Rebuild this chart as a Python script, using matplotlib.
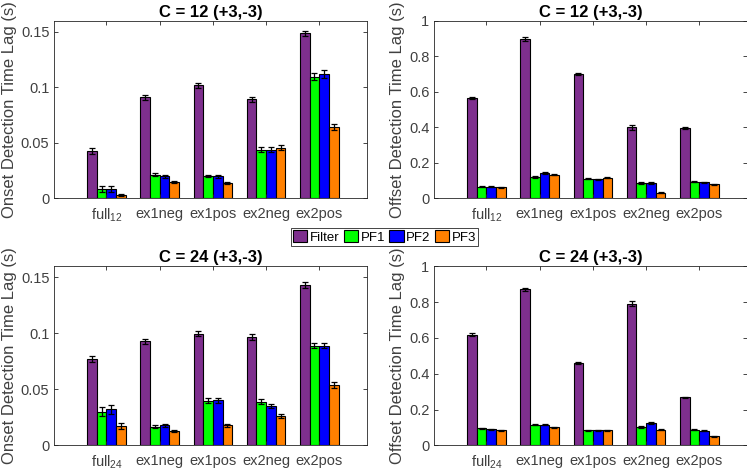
import matplotlib
matplotlib.use("Agg")
import matplotlib.pyplot as plt
import numpy as np

plt.rcParams['font.family'] = ['Liberation Sans', 'DejaVu Sans']
plt.rcParams['mathtext.fontset'] = 'custom'
plt.rcParams['mathtext.rm'] = 'Liberation Sans'
plt.rcParams['mathtext.it'] = 'Liberation Sans'

series = ['Filter', 'PF1', 'PF2', 'PF3']
colors = ['#7E2F8E', '#00FF00', '#0000FF', '#FF8000']
labels_12 = ['full$_{12}$', 'ex1neg', 'ex1pos', 'ex2neg', 'ex2pos']
labels_24 = ['full$_{24}$', 'ex1neg', 'ex1pos', 'ex2neg', 'ex2pos']

# onset, C = 12  (rows = Filter, PF1, PF2, PF3; cols = groups)
on12 = [[0.0429, 0.0909, 0.1017, 0.0891, 0.1485],
        [0.0081, 0.0213, 0.0201, 0.0438, 0.1095],
        [0.0081, 0.0198, 0.0198, 0.0438, 0.1119],
        [0.0030, 0.0150, 0.0141, 0.0456, 0.0642]]
on12_err = [[0.0028, 0.0020, 0.0020, 0.0022, 0.0020],
            [0.0028, 0.0015, 0.0013, 0.0022, 0.0030],
            [0.0028, 0.0015, 0.0013, 0.0022, 0.0035],
            [0.0013, 0.0010, 0.0010, 0.0022, 0.0030]]

# offset, C = 12
off12 = [[0.564, 0.895, 0.701, 0.400, 0.398],
         [0.065, 0.118, 0.110, 0.086, 0.093],
         [0.066, 0.141, 0.108, 0.086, 0.091],
         [0.062, 0.133, 0.116, 0.032, 0.078]]
off12_err = [[0.006, 0.011, 0.005, 0.014, 0.006],
             [0.003, 0.005, 0.003, 0.004, 0.003],
             [0.003, 0.005, 0.003, 0.004, 0.003],
             [0.003, 0.004, 0.003, 0.003, 0.002]]

# onset, C = 24
on24 = [[0.0774, 0.0930, 0.0999, 0.0969, 0.1434],
        [0.0300, 0.0168, 0.0399, 0.0390, 0.0891],
        [0.0324, 0.0180, 0.0402, 0.0351, 0.0891],
        [0.0174, 0.0126, 0.0177, 0.0264, 0.0540]]
on24_err = [[0.0025, 0.0022, 0.0022, 0.0025, 0.0025],
            [0.0040, 0.0013, 0.0022, 0.0022, 0.0025],
            [0.0040, 0.0013, 0.0022, 0.0022, 0.0025],
            [0.0028, 0.0010, 0.0012, 0.0020, 0.0028]]

# offset, C = 24
off24 = [[0.618, 0.872, 0.460, 0.791, 0.268],
         [0.095, 0.115, 0.084, 0.102, 0.088],
         [0.089, 0.114, 0.084, 0.123, 0.082],
         [0.084, 0.100, 0.084, 0.088, 0.050]]
off24_err = [[0.010, 0.009, 0.004, 0.013, 0.004],
             [0.004, 0.003, 0.002, 0.005, 0.002],
             [0.003, 0.003, 0.002, 0.005, 0.002],
             [0.003, 0.003, 0.002, 0.004, 0.002]]

fig = plt.figure(figsize=(7.47, 4.72), dpi=100)
W, H = 747.0, 472.0
gray = '#262626'


def panel(box, vals, errs, labels, ylim, yticks, yticklabels, ylabel):
    ax = fig.add_axes([box[0] / W, 1 - box[3] / H, (box[2] - box[0]) / W, (box[3] - box[1]) / H])
    x = np.arange(1, 6)
    bw = (4 / 5.5) / 4
    bars = []
    for i in range(4):
        b = ax.bar(x + (i - 1.5) * bw, vals[i], bw, color=colors[i],
                   edgecolor='black', linewidth=0.8, label=series[i])
        ax.errorbar(x + (i - 1.5) * bw, vals[i], yerr=errs[i], fmt='none',
                    ecolor='black', elinewidth=0.9, capsize=2.2, capthick=0.9)
        bars.append(b)
    ax.set_xlim(0.02, 5.89)
    ax.set_ylim(*ylim)
    ax.set_xticks(x)
    ax.set_xticklabels(labels)
    ax.set_yticks(yticks)
    ax.set_yticklabels(yticklabels)
    ax.tick_params(direction='in', top=True, right=True, length=3, width=0.6,
                   colors=gray, labelsize=10.5, labelcolor='#404040')
    ax.tick_params(axis='x', pad=6)
    for s in ax.spines.values():
        s.set_color(gray)
        s.set_linewidth(0.6)
    ax.set_ylabel(ylabel, fontsize=12, color='#404040', labelpad=3)
    return ax, bars


ax1, bars = panel((54.3, 20.7, 366.7, 198.3), on12, on12_err, labels_12, (0, 0.16),
                  [0, 0.05, 0.1, 0.15], ['0', '0.05', '0.1', '0.15'],
                  'Onset Detection Time Lag (s)')
ax1.set_title('C = 12 (+3,-3)', fontsize=12, fontweight='bold', pad=3)

ax2, _ = panel((434.3, 20.7, 746.7, 198.3), off12, off12_err, labels_12, (0, 1),
               [0, 0.2, 0.4, 0.6, 0.8, 1], ['0', '0.2', '0.4', '0.6', '0.8', '1'],
               'Offset Detection Time Lag (s)')
ax2.set_title('C = 12 (+3,-3)', fontsize=12, fontweight='bold', pad=3)

ax3, _ = panel((54.3, 266.3, 366.7, 445.3), on24, on24_err, labels_24, (0, 0.16),
               [0, 0.05, 0.1, 0.15], ['0', '0.05', '0.1', '0.15'],
               'Onset Detection Time Lag (s)')
ax3.set_title('C = 24 (+3,-3)', fontsize=12, fontweight='bold', pad=3)

ax4, _ = panel((434.3, 266.3, 746.7, 445.3), off24, off24_err, labels_24, (0, 1),
               [0, 0.2, 0.4, 0.6, 0.8, 1], ['0', '0.2', '0.4', '0.6', '0.8', '1'],
               'Offset Detection Time Lag (s)')
ax4.set_title('C = 24 (+3,-3)', fontsize=12, fontweight='bold', pad=3)

leg = fig.legend(bars, series, loc='center', bbox_to_anchor=(384.5 / W, 1 - 237 / H),
                 ncol=4, fontsize=9.5, handlelength=1.1, handleheight=1.0,
                 handletextpad=0.2, columnspacing=0.3, borderpad=0.15,
                 fancybox=False, framealpha=1, borderaxespad=0)
leg.get_frame().set_edgecolor(gray)
leg.get_frame().set_linewidth(0.6)

fig.savefig('out.png', dpi=100)
